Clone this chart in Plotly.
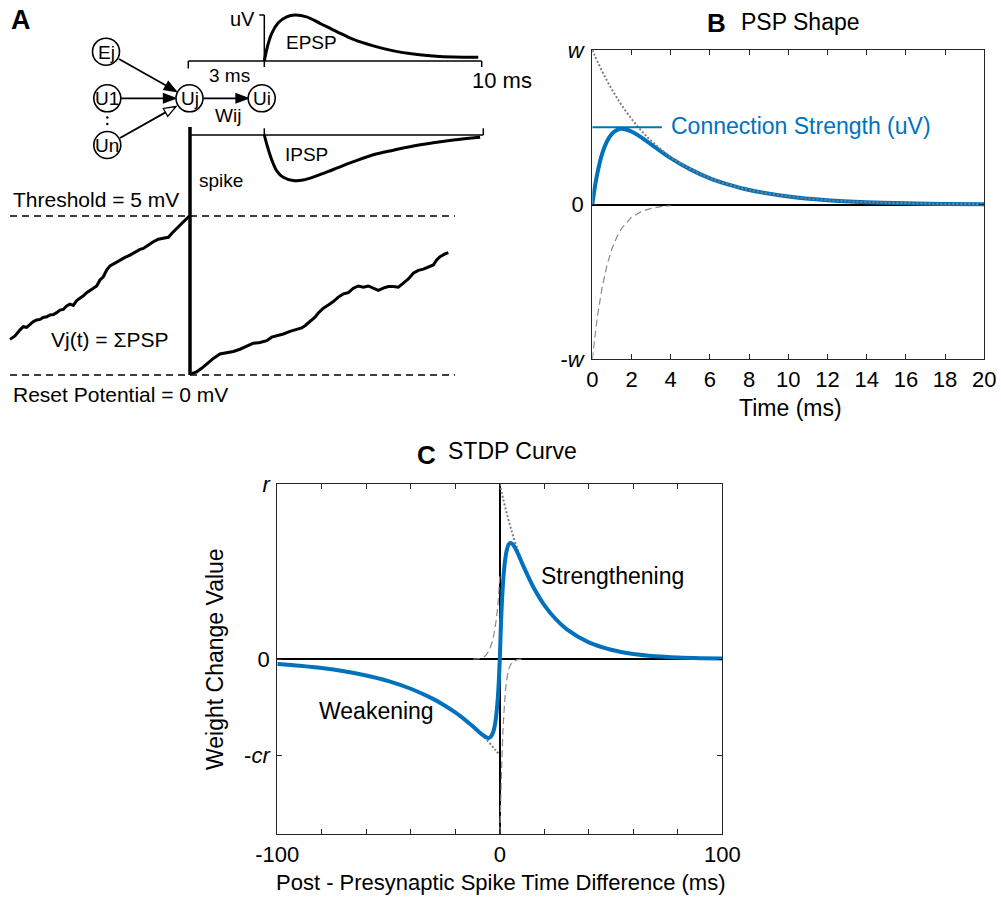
import math
import plotly.graph_objects as go

W, H = 1001, 898
FONT = "Liberation Sans, Arial, Helvetica, sans-serif"
BLUE = "#0072BD"
GREY = "#7f7f7f"
AXC = "#262626"

# ---------------- Panel A data ----------------
# membrane potential Vj(t) (ms, mV) before and after the spike
VJ_T_BEFORE = [0.0, 1.11, 2.22, 2.96, 3.70, 4.44, 5.19, 5.93, 6.67, 7.41, 8.15, 8.89, 9.63, 10.37,
               11.11, 11.85, 12.59, 13.33, 14.07, 14.81, 15.56, 16.30, 17.04, 17.78, 18.52, 19.26,
               20.00, 20.74, 21.48, 22.22, 22.96, 23.70, 24.44, 25.56, 26.67, 27.41, 28.15, 28.89,
               29.63, 30.37, 31.11, 31.85, 32.96, 34.07, 35.19, 35.93, 36.67, 37.78, 38.89, 39.63, 40.0]
VJ_V_BEFORE = [1.12, 1.23, 1.42, 1.52, 1.50, 1.60, 1.68, 1.73, 1.75, 1.81, 1.83, 1.89, 1.90, 1.96,
               2.04, 2.06, 2.17, 2.23, 2.19, 2.34, 2.41, 2.49, 2.59, 2.67, 2.73, 2.80,
               2.99, 3.09, 3.30, 3.43, 3.49, 3.56, 3.62, 3.70, 3.77, 3.83, 3.91, 3.95,
               3.98, 4.04, 4.12, 4.19, 4.27, 4.30, 4.33, 4.45, 4.56, 4.72, 4.86, 4.97, 5.0]
VJ_T_AFTER = [40.00, 41.48, 42.59, 43.70, 45.19, 46.67, 48.15, 49.63, 51.11, 52.59, 54.07, 55.56,
              57.04, 58.15, 59.26, 60.74, 62.22, 63.70, 64.81, 65.56, 66.67, 67.78, 68.52, 69.63,
              70.74, 71.85, 72.96, 74.07, 75.19, 76.30, 77.41, 78.52, 79.63, 80.74, 81.85, 82.96,
              84.07, 85.19, 86.30, 87.41, 88.52, 89.63, 90.74, 91.85, 92.96, 94.07, 94.81, 95.56,
              96.67, 97.41]
VJ_V_AFTER = [0.03, 0.10, 0.21, 0.35, 0.52, 0.66, 0.70, 0.74, 0.81, 0.91, 1.00, 1.02,
              1.08, 1.19, 1.23, 1.29, 1.37, 1.44, 1.48, 1.55, 1.68, 1.82, 1.95, 2.10,
              2.20, 2.31, 2.45, 2.55, 2.59, 2.73, 2.80, 2.76, 2.80, 2.73, 2.66, 2.73,
              2.78, 2.78, 2.76, 2.89, 3.02, 3.20, 3.29, 3.33, 3.39, 3.46, 3.62, 3.72,
              3.81, 3.85]
SPIKE_T = [40, 40]
SPIKE_V = [0, 7.8]
THRESHOLD_MV = 5
RESET_MV = 0
TRACE_END_MS = 98.9

# PSP sketches (ms, normalised uV)
EPSP_T = [3.0, 3.10, 3.24, 3.45, 3.72, 3.99, 4.36, 4.79, 5.33, 5.87, 6.51, 7.16, 7.80, 8.44, 9.09, 9.89]
EPSP_V = [0, 0.31, 0.60, 0.83, 0.96, 1.0, 0.96, 0.82, 0.64, 0.47, 0.33, 0.22, 0.15, 0.11, 0.087, 0.08]
IPSP_T = [3.0, 3.10, 3.24, 3.40, 3.61, 3.93, 4.25, 4.68, 5.22, 5.87, 6.51, 7.16, 7.80, 8.44, 9.09, 9.95]
IPSP_V = [0, -0.25, -0.54, -0.78, -0.92, -0.99, -0.98, -0.89, -0.75, -0.58, -0.43, -0.33, -0.24, -0.17, -0.11, -0.05]

# ---------------- Panel B data ----------------
B_T = [0, 0.1, 0.25, 0.5, 0.75, 1, 1.25, 1.5, 2, 2.5, 3, 4, 5, 6, 7, 8, 10, 12, 14, 16, 18, 20]
B_PSP = [0, 0.089, 0.197, 0.328, 0.410, 0.458, 0.482, 0.490, 0.473, 0.435, 0.390, 0.301, 0.228,
         0.170, 0.128, 0.095, 0.053, 0.029, 0.016, 0.009, 0.005, 0.003]
B_DECAY = [1, 0.971, 0.929, 0.863, 0.802, 0.745, 0.692, 0.643, 0.555, 0.479, 0.414, 0.308, 0.230,
           0.171, 0.128, 0.095, 0.053, 0.029, 0.016, 0.009, 0.005, 0.003]
B_RISE_T = [0, 0.1, 0.25, 0.5, 0.75, 1, 1.25, 1.5, 2, 2.5, 3, 3.5, 4]
B_RISE = [-1, -0.882, -0.732, -0.535, -0.392, -0.287, -0.210, -0.153, -0.082, -0.044, -0.024, -0.013, -0.007]
CONN_STRENGTH = 0.5
CONN_LINE_END = 3.55
B_XTICKS = list(range(0, 21, 2))
B_YTICKS = [-1, 0, 1]
B_YTICKTEXT = ["-<i>w</i>", "0", "<i>w</i>"]

# ---------------- Panel C data ----------------
C_DT = [-100, -90, -80, -70, -60, -50, -40, -30, -25, -20, -15, -12, -10, -8, -6, -5, -4, -3, -2.5,
        -2, -1.5, -1, -0.5, 0, 0.5, 1, 1.5, 2, 2.5, 3, 4, 5, 6, 8, 10, 12, 15, 20, 25, 30, 40, 50,
        60, 70, 80, 90, 100]
C_STDP = [-0.029, -0.039, -0.052, -0.070, -0.094, -0.126, -0.170, -0.228, -0.264, -0.305, -0.354,
          -0.386, -0.409, -0.431, -0.448, -0.451, -0.444, -0.419, -0.396, -0.361, -0.311, -0.240,
          -0.139, 0, 0.192, 0.336, 0.444, 0.521, 0.576, 0.615, 0.655, 0.663, 0.653, 0.607, 0.548,
          0.492, 0.413, 0.308, 0.230, 0.171, 0.095, 0.053, 0.029, 0.016, 0.009, 0.005, 0.003]
C_DOT_NEG_T = [-15, -12, -10, -8, -6, -4, -2, 0]
C_DOT_NEG = [-0.354, -0.386, -0.410, -0.435, -0.461, -0.489, -0.519, -0.55]
C_DOT_POS_T = [0, 1, 2, 3, 4, 5, 6, 8, 10, 12, 15]
C_DOT_POS = [1, 0.943, 0.889, 0.838, 0.790, 0.745, 0.703, 0.625, 0.555, 0.494, 0.414]
C_DASH_NEG_T = [-12, -10, -9, -8, -7, -6, -5, -4, -3, -2.5, -2, -1.5, -1, -0.5, 0]
C_DASH_NEG = [0.0, 0.001, 0.003, 0.006, 0.013, 0.025, 0.045, 0.075, 0.12, 0.15, 0.19, 0.235, 0.29, 0.37, 0.48]
C_DASH_POS_T = [0, 0.25, 0.5, 0.75, 1, 1.5, 2, 2.5, 3, 4, 5, 6, 8, 10]
C_DASH_POS = [-1.0, -0.89, -0.78, -0.66, -0.55, -0.39, -0.28, -0.19, -0.13, -0.06, -0.03, -0.015, -0.004, 0.0]
C_XTICKS = list(range(-100, 101, 20))
C_XTICKTEXT = [str(v) if v in (-100, 0, 100) else "" for v in C_XTICKS]
C_YTICKS = [-0.55, 0, 1]
C_YTICKTEXT = ["-<i>cr</i>", "0", "<i>r</i>"]


# ---------------- helpers ----------------
def dom_x(p0, p1):
    return [p0 / W, p1 / W]


def dom_y(top, bottom):
    return [1 - bottom / H, 1 - top / H]


def lin(pa, va, pb, vb):
    return lambda p: va + (p - pa) * (vb - va) / (pb - pa)


fig = go.Figure()

# ---------------- Panel B ----------------
fig.add_trace(go.Scatter(x=B_RISE_T, y=B_RISE, mode="lines", xaxis="x", yaxis="y",
                         line=dict(color="#8a8a8a", width=1.2, dash="7px,4px"), hoverinfo="skip"))
fig.add_trace(go.Scatter(x=B_T, y=B_PSP, mode="lines", xaxis="x", yaxis="y",
                         line=dict(color=BLUE, width=4, shape="spline"), hoverinfo="skip"))
fig.add_trace(go.Scatter(x=B_T, y=B_DECAY, mode="lines", xaxis="x", yaxis="y",
                         line=dict(color=GREY, width=2, dash="2px,2px", shape="spline"), hoverinfo="skip"))
fig.add_trace(go.Scatter(x=[0, CONN_LINE_END], y=[CONN_STRENGTH, CONN_STRENGTH], mode="lines",
                         xaxis="x", yaxis="y", line=dict(color=BLUE, width=2), hoverinfo="skip"))

# ---------------- Panel C ----------------
fig.add_trace(go.Scatter(x=C_DASH_NEG_T, y=C_DASH_NEG, mode="lines", xaxis="x2", yaxis="y2",
                         line=dict(color="#8a8a8a", width=1.2, dash="7px,4px", shape="spline"), hoverinfo="skip"))
fig.add_trace(go.Scatter(x=C_DASH_POS_T, y=C_DASH_POS, mode="lines", xaxis="x2", yaxis="y2",
                         line=dict(color="#8a8a8a", width=1.2, dash="7px,4px", shape="spline"), hoverinfo="skip"))
fig.add_trace(go.Scatter(x=C_DOT_NEG_T, y=C_DOT_NEG, mode="lines", xaxis="x2", yaxis="y2",
                         line=dict(color=GREY, width=2, dash="2px,2px", shape="spline"), hoverinfo="skip"))
fig.add_trace(go.Scatter(x=C_DOT_POS_T, y=C_DOT_POS, mode="lines", xaxis="x2", yaxis="y2",
                         line=dict(color=GREY, width=2, dash="2px,2px", shape="spline"), hoverinfo="skip"))
fig.add_trace(go.Scatter(x=C_DT, y=C_STDP, mode="lines", xaxis="x2", yaxis="y2",
                         line=dict(color=BLUE, width=4, shape="spline", smoothing=0.8), hoverinfo="skip"))

# ---------------- Panel A traces ----------------
fig.add_trace(go.Scatter(x=VJ_T_BEFORE, y=VJ_V_BEFORE, mode="lines", xaxis="x3", yaxis="y3",
                         line=dict(color="black", width=3), hoverinfo="skip"))
fig.add_trace(go.Scatter(x=VJ_T_AFTER, y=VJ_V_AFTER, mode="lines", xaxis="x3", yaxis="y3",
                         line=dict(color="black", width=3), hoverinfo="skip"))
fig.add_trace(go.Scatter(x=SPIKE_T, y=SPIKE_V, mode="lines", xaxis="x3", yaxis="y3",
                         line=dict(color="black", width=3.5), hoverinfo="skip"))
fig.add_trace(go.Scatter(x=EPSP_T, y=EPSP_V, mode="lines", xaxis="x4", yaxis="y4",
                         line=dict(color="black", width=3, shape="spline"), hoverinfo="skip"))
fig.add_trace(go.Scatter(x=IPSP_T, y=IPSP_V, mode="lines", xaxis="x5", yaxis="y5",
                         line=dict(color="black", width=3, shape="spline"), hoverinfo="skip"))
# invisible anchor trace for the pixel overlay axes
fig.add_trace(go.Scatter(x=[0], y=[0], mode="markers", xaxis="x6", yaxis="y6",
                         marker=dict(opacity=0), hoverinfo="skip"))

shapes = []
ann = []


def px_line(x0, y0, x1, y1, width=1.5, color="black", dash=None):
    d = dict(type="line", xref="x6", yref="y6", x0=x0, y0=y0, x1=x1, y1=y1,
             line=dict(color=color, width=width), layer="above")
    if dash:
        d["line"]["dash"] = dash
    shapes.append(d)


def px_text(x, y, text, size=20, xanchor="center", yanchor="middle", color="black", angle=0):
    ann.append(dict(x=x, y=y, xref="x6", yref="y6", text=text, showarrow=False,
                    xanchor=xanchor, yanchor=yanchor, textangle=angle,
                    font=dict(family=FONT, size=size, color=color)))


def node(cx, cy, label, r=13.5):
    shapes.append(dict(type="circle", xref="x6", yref="y6", x0=cx - r, x1=cx + r, y0=cy - r, y1=cy + r,
                       line=dict(color="black", width=1.6), fillcolor="white", layer="above"))
    px_text(cx, cy + 0.5, label, size=19)


def arrow(x0, y0, x1, y1, hollow=False, L=12, hw=4.5):
    dx, dy = x1 - x0, y1 - y0
    d = math.hypot(dx, dy)
    ux, uy = dx / d, dy / d
    bx, by = x1 - ux * L, y1 - uy * L
    nx, ny = -uy, ux
    px_line(x0, y0, bx + ux * (1 if not hollow else 0), by + uy * (1 if not hollow else 0), width=1.8)
    p1 = (bx + nx * hw, by + ny * hw)
    p2 = (bx - nx * hw, by - ny * hw)
    path = f"M {x1},{y1} L {p1[0]},{p1[1]} L {p2[0]},{p2[1]} Z"
    shapes.append(dict(type="path", xref="x6", yref="y6", path=path,
                       fillcolor="white" if hollow else "black",
                       line=dict(color="black", width=1.3), layer="above"))


# network diagram
arrow(119, 59, 176.5, 91.5)
arrow(121, 98.3, 175.5, 98.3)
arrow(120, 138, 176, 106.5, hollow=True)
arrow(203.5, 98.3, 248, 98.3)
node(106, 51.7, "Ej")
node(107.3, 98.3, "U1")
node(107.3, 145, "Un")
node(189.5, 98.3, "Uj")
node(261.7, 98.3, "Ui")
for yy in (117.5, 124.0):
    shapes.append(dict(type="circle", xref="x6", yref="y6", x0=106.1, x1=108.5, y0=yy - 1.2, y1=yy + 1.2,
                       fillcolor="black", line=dict(color="black", width=0), layer="above"))

# brackets for PSP sketches
px_line(188.3, 61, 481.7, 61)
px_line(188.3, 61, 188.3, 68.5)
px_line(481.7, 61, 481.7, 67)
px_line(264.3, 15, 264.3, 67)
px_line(259.3, 15, 264.3, 15)
px_line(190, 135, 483.3, 135)
px_line(483.3, 128.3, 483.3, 135)
px_line(264.3, 128.3, 264.3, 135)

# threshold / reset dashed lines (data coords of the membrane axis)
for v in (THRESHOLD_MV, RESET_MV):
    shapes.append(dict(type="line", xref="x3", yref="y3", x0=0, x1=TRACE_END_MS, y0=v, y1=v,
                       line=dict(color="black", width=1.5, dash="7px,5px"), layer="below"))

# panel A texts
px_text(21, 20, "<b>A</b>", size=27)
px_text(257, 18.5, "uV", size=20, xanchor="right")
px_text(284, 42, "EPSP", size=19, xanchor="left")
px_text(207, 75, "3 ms", size=19, xanchor="left")
px_text(470, 80, "10 ms", size=22, xanchor="left")
px_text(213, 115, "Wij", size=19, xanchor="left")
px_text(283, 154, "IPSP", size=19, xanchor="left")
px_text(197, 180, "spike", size=19, xanchor="left")
px_text(11, 199, "Threshold = 5 mV", size=21, xanchor="left")
px_text(49, 339, "Vj(t) = ΣPSP", size=21, xanchor="left")
px_text(11, 394, "Reset Potential = 0 mV", size=21, xanchor="left")

# panel B texts
px_text(716, 22.5, "<b>B</b>", size=26)
px_text(739, 22, "PSP Shape", size=23, xanchor="left")
px_text(669, 126, "Connection Strength (uV)", size=23, xanchor="left", color=BLUE)
px_text(790, 408, "Time (ms)", size=23)

# panel C texts
px_text(426, 454.5, "<b>C</b>", size=26)
px_text(446, 451, "STDP Curve", size=23, xanchor="left")
px_text(539, 576, "Strengthening", size=23, xanchor="left")
px_text(317, 711, "Weakening", size=23, xanchor="left")
px_text(501, 882, "Post - Presynaptic Spike Time Difference (ms)", size=22)
px_text(215, 659, "Weight Change Value", size=23, angle=-90)

# ---------------- axes ----------------
common = dict(showline=True, linecolor=AXC, linewidth=1.3, mirror="ticks", ticks="inside",
              ticklen=5, tickwidth=1.2, tickcolor=AXC, showgrid=False, automargin=False,
              tickfont=dict(family=FONT, size=22, color="black"))

B_L, B_R, B_T_, B_B = 592.3, 984.3, 50, 359.3
C_L, C_R, C_T_, C_B = 277.3, 722.3, 484, 834

fx3 = lin(10, 0, 190, 40)
fy3 = lin(375, 0, 216, 5)
fx4 = lin(264.3, 3, 481.7, 10)
fy4 = lin(61, 0, 15, 1)
fy5 = lin(135, 0, 181, -1)

hidden = dict(visible=False, showgrid=False, zeroline=False, fixedrange=True, automargin=False)

fig.update_layout(
    width=W, height=H, margin=dict(l=0, r=0, t=0, b=0, pad=0, autoexpand=False), autosize=False,
    paper_bgcolor="white", plot_bgcolor="rgba(0,0,0,0)", showlegend=False,
    font=dict(family=FONT, color="black"),
    xaxis=dict(domain=dom_x(B_L, B_R), range=[0, 20], tickvals=B_XTICKS, zeroline=False,
               ticklabelstandoff=0, anchor="y", **common),
    yaxis=dict(domain=dom_y(B_T_, B_B), range=[-1, 1], tickvals=B_YTICKS, ticktext=B_YTICKTEXT,
               zeroline=True, zerolinecolor="black", zerolinewidth=1.6, ticklabelstandoff=3,
               anchor="x", **common),
    xaxis2=dict(domain=dom_x(C_L, C_R), range=[-100, 100], tickvals=C_XTICKS, ticktext=C_XTICKTEXT,
                zeroline=True, zerolinecolor="black", zerolinewidth=2, ticklabelstandoff=0,
                anchor="y2", **common),
    yaxis2=dict(domain=dom_y(C_T_, C_B), range=[-1, 1], tickvals=C_YTICKS, ticktext=C_YTICKTEXT,
                zeroline=True, zerolinecolor="black", zerolinewidth=2, ticklabelstandoff=2,
                anchor="x2", **common),
    xaxis3=dict(domain=dom_x(0, 470), range=[fx3(0), fx3(470)], anchor="y3", **hidden),
    yaxis3=dict(domain=dom_y(115, 390), range=[fy3(390), fy3(115)], anchor="x3", **hidden),
    xaxis4=dict(domain=dom_x(250, 495), range=[fx4(250), fx4(495)], anchor="y4", **hidden),
    yaxis4=dict(domain=dom_y(5, 75), range=[fy4(75), fy4(5)], anchor="x4", **hidden),
    xaxis5=dict(domain=dom_x(250, 495), range=[fx4(250), fx4(495)], anchor="y5", **hidden),
    yaxis5=dict(domain=dom_y(120, 195), range=[fy5(195), fy5(120)], anchor="x5", **hidden),
    xaxis6=dict(domain=[0, 1], range=[0, W], anchor="y6", **hidden),
    yaxis6=dict(domain=[0, 1], range=[H, 0], anchor="x6", **hidden),
    shapes=shapes,
    annotations=ann,
)

fig.write_html("out.html")
